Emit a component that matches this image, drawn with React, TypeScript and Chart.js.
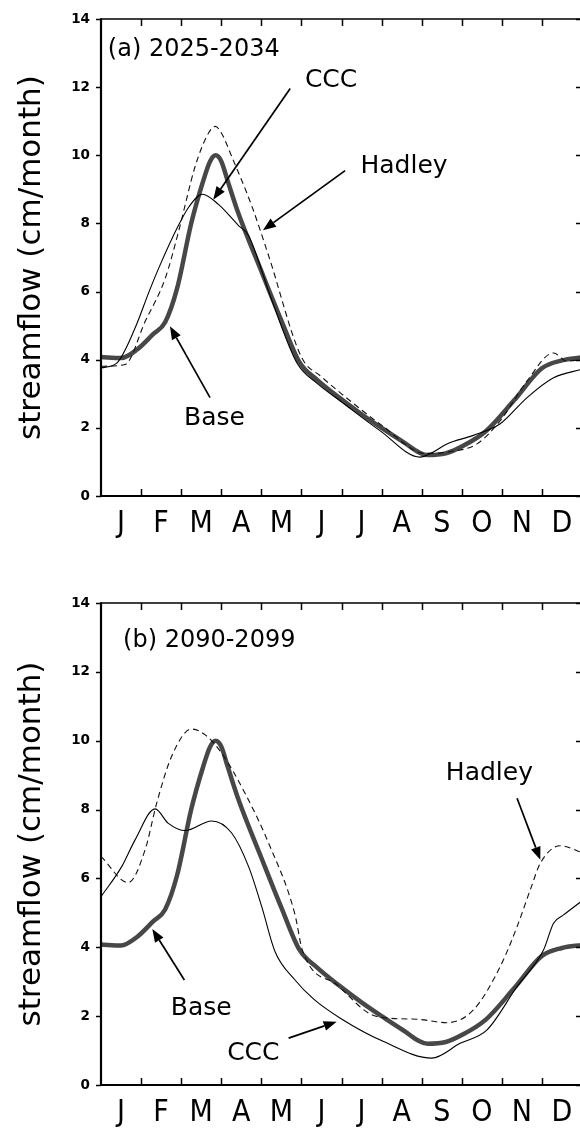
import React, { useEffect, useRef } from 'react';
import { Chart, registerables } from 'chart.js';

Chart.register(...registerables);

// ---------- tick labels ----------
const months = ['J', 'F', 'M', 'A', 'M', 'J', 'J', 'A', 'S', 'O', 'N', 'D'];
const monthCenters = [0.5, 1.5, 2.5, 3.5, 4.5, 5.5, 6.5, 7.5, 8.5, 9.5, 10.5, 11.5];
const monthEdges = [1, 2, 3, 4, 5, 6, 7, 8, 9, 10, 11];
const yTicks = [0, 2, 4, 6, 8, 10, 12, 14];

// ---------- Base (same in both panels) ----------
const baseX = [0, 0.5, 0.9, 1.3, 1.6, 1.9, 2.25, 2.55, 2.72, 2.86, 3.0, 3.16, 3.42, 4.0, 4.5, 4.95, 5.4, 5.95, 6.5, 7.0, 7.5, 8.15, 8.6, 9.0, 9.6, 10.3, 11.0, 11.5, 12];
const baseY = [4.08, 4.05, 4.3, 4.75, 5.1, 6.1, 8.0, 9.25, 9.82, 10.0, 9.83, 9.25, 8.32, 6.6, 5.15, 3.93, 3.4, 2.88, 2.4, 2.0, 1.62, 1.2, 1.25, 1.45, 1.9, 2.8, 3.75, 3.98, 4.07];

// ---------- Panel (a) 2025-2034 ----------
const cccAX = [0, 0.4, 0.85, 1.2, 1.47, 1.93, 2.2, 2.53, 2.93, 3.43, 3.68, 4.26, 4.9, 5.4, 5.97, 6.96, 7.96, 8.3, 8.63, 9.29, 9.96, 10.63, 11.29, 12];
const cccAY = [3.76, 3.91, 4.93, 6.0, 6.77, 7.94, 8.5, 8.86, 8.56, 7.94, 7.65, 5.75, 3.88, 3.3, 2.79, 1.92, 1.14, 1.3, 1.53, 1.78, 2.12, 2.89, 3.47, 3.72];
const hadAX = [0, 0.6, 1.1, 1.6, 1.93, 2.35, 2.68, 2.85, 3.02, 3.26, 3.76, 4.18, 5.0, 5.5, 6.0, 7.0, 8.1, 8.7, 9.38, 9.96, 10.63, 11.29, 11.62, 12];
const hadAY = [3.81, 3.86, 5.12, 6.38, 7.74, 9.68, 10.65, 10.85, 10.62, 9.97, 8.52, 7.06, 4.08, 3.5, 3.0, 2.08, 1.25, 1.3, 1.53, 2.21, 3.38, 4.2, 3.96, 4.0];

// ---------- Panel (b) 2090-2099 ----------
const cccBX = [0, 0.52, 0.85, 1.35, 1.68, 2.1, 2.76, 3.26, 3.68, 4.01, 4.34, 4.84, 5.3, 5.97, 7.05, 8.25, 8.96, 9.63, 10.38, 11.04, 11.29, 11.54, 12];
const cccBY = [5.47, 6.35, 7.12, 8.02, 7.6, 7.39, 7.67, 7.32, 6.35, 5.18, 3.88, 3.05, 2.5, 1.94, 1.26, 0.78, 1.21, 1.6, 2.86, 3.92, 4.7, 4.94, 5.35];
const hadBX = [0, 0.68, 1.1, 1.39, 1.76, 2.26, 2.6, 3.01, 3.59, 4.18, 4.84, 5.02, 5.9, 6.88, 7.88, 8.63, 9.29, 9.96, 10.38, 10.71, 10.96, 11.46, 12];
const hadBY = [6.64, 5.88, 6.83, 8.19, 9.54, 10.34, 10.17, 9.64, 8.48, 7.03, 4.95, 3.93, 2.9, 1.99, 1.91, 1.81, 2.18, 3.44, 4.6, 5.67, 6.44, 6.95, 6.75];

// ---------- annotations (data units) ----------
const annATexts = ['(a) 2025-2034', 'CCC', 'Hadley', 'Base'];
const annAX = [0.17, 5.74, 7.56, 2.83];
const annAY = [12.93, 12.02, 9.49, 2.07];
const arrATailX = [4.72, 6.09, 2.72];
const arrATailY = [11.96, 9.55, 2.89];
const arrATipX = [2.8, 4.04, 1.72];
const arrATipY = [8.7, 7.8, 4.98];

const annBTexts = ['(b) 2090-2099', 'Hadley', 'Base', 'CCC'];
const annBX = [0.55, 9.69, 2.5, 3.8];
const annBY = [12.73, 8.87, 2.03, 0.73];
const arrBTailX = [10.38, 2.08, 4.68];
const arrBTailY = [8.33, 3.05, 1.36];
const arrBTipX = [10.96, 1.28, 5.88];
const arrBTipY = [6.54, 4.53, 1.84];

const TEXT_FONT = '"DejaVu Sans", "Noto Sans", sans-serif';
const MONTH_FONT = '"Liberation Sans Narrow", "DejaVu Sans Condensed", "Liberation Sans", sans-serif';

const toPts = (xs: number[], ys: number[]) => xs.map((x, i) => ({ x, y: ys[i] }));

const framePlugin = {
  id: 'frame',
  afterDatasetsDraw(chart: any) {
    const { ctx, chartArea, scales } = chart;
    const { left, right, top, bottom } = chartArea;
    const x = scales.x;
    const y = scales.y;
    ctx.save();
    ctx.strokeStyle = '#000';
    ctx.lineWidth = 1.5;
    ctx.beginPath();
    ctx.moveTo(left, top);
    ctx.lineTo(right, top);
    ctx.lineTo(right, bottom);
    ctx.stroke();
    ctx.lineWidth = 2.2;
    ctx.beginPath();
    ctx.moveTo(left, top - 0.75);
    ctx.lineTo(left, bottom);
    ctx.lineTo(right, bottom);
    ctx.stroke();
    ctx.lineWidth = 1.5;
    ctx.beginPath();
    for (const m of monthEdges) {
      const px = Math.round(x.getPixelForValue(m)) + 0.5;
      ctx.moveTo(px, top);
      ctx.lineTo(px, top + 7);
      ctx.moveTo(px, bottom);
      ctx.lineTo(px, bottom - 7);
    }
    for (const v of yTicks) {
      const py = Math.round(y.getPixelForValue(v)) + 0.5;
      ctx.moveTo(left - 5, py);
      ctx.lineTo(left, py);
      ctx.moveTo(right, py);
      ctx.lineTo(right - 6, py);
    }
    ctx.stroke();
    ctx.restore();
  },
};

const annotPlugin = {
  id: 'annot',
  afterDraw(chart: any, _args: any, opts: any) {
    const { ctx, scales } = chart;
    const x = scales.x;
    const y = scales.y;
    ctx.save();
    ctx.fillStyle = '#000';
    ctx.strokeStyle = '#000';
    ctx.textBaseline = 'alphabetic';
    (opts.texts || []).forEach((t: string, i: number) => {
      const isTitle = i === 0;
      ctx.font = isTitle ? `24px ${TEXT_FONT}` : `25px ${TEXT_FONT}`;
      ctx.textAlign = isTitle ? 'left' : 'center';
      ctx.fillText(t, x.getPixelForValue(opts.xs[i]), y.getPixelForValue(opts.ys[i]));
    });
    const n = (opts.tailX || []).length;
    for (let i = 0; i < n; i++) {
      const x1 = x.getPixelForValue(opts.tailX[i]);
      const y1 = y.getPixelForValue(opts.tailY[i]);
      const x2 = x.getPixelForValue(opts.tipX[i]);
      const y2 = y.getPixelForValue(opts.tipY[i]);
      const ang = Math.atan2(y2 - y1, x2 - x1);
      const L = 13;
      const W = 5;
      const c = Math.cos(ang);
      const s = Math.sin(ang);
      const bx = x2 - L * c;
      const by = y2 - L * s;
      ctx.lineWidth = 1.7;
      ctx.beginPath();
      ctx.moveTo(x1, y1);
      ctx.lineTo(bx, by);
      ctx.stroke();
      ctx.beginPath();
      ctx.moveTo(x2, y2);
      ctx.lineTo(bx + W * s, by - W * c);
      ctx.lineTo(bx - W * s, by + W * c);
      ctx.closePath();
      ctx.fill();
    }
    ctx.restore();
  },
};

function makeConfig(
  ccc: { x: number; y: number }[],
  had: { x: number; y: number }[],
  topPad: number,
  xHeight: number,
  annot: any
): any {
  return {
    type: 'line',
    data: {
      datasets: [
        {
          label: 'CCC',
          data: ccc,
          borderColor: '#000',
          borderWidth: 1.1,
          pointRadius: 0,
          cubicInterpolationMode: 'monotone',
          fill: false,
        },
        {
          label: 'Hadley',
          data: had,
          borderColor: '#111',
          borderWidth: 1.1,
          borderDash: [6, 4],
          pointRadius: 0,
          cubicInterpolationMode: 'monotone',
          fill: false,
        },
        {
          label: 'Base',
          data: toPts(baseX, baseY),
          borderColor: '#474747',
          borderWidth: 4.5,
          pointRadius: 0,
          cubicInterpolationMode: 'monotone',
          fill: false,
          borderJoinStyle: 'round',
          borderCapStyle: 'round',
        },
      ],
    },
    options: {
      animation: false,
      responsive: false,
      maintainAspectRatio: false,
      devicePixelRatio: 1,
      layout: { padding: { left: 0, top: topPad, right: 8, bottom: 0 } },
      plugins: {
        legend: { display: false },
        tooltip: { enabled: false },
        annot,
      },
      elements: { point: { radius: 0 } },
      scales: {
        x: {
          type: 'linear',
          min: 0,
          max: 12,
          grid: { display: false, drawTicks: false },
          border: { display: false },
          afterBuildTicks: (s: any) => {
            s.ticks = monthCenters.map((v) => ({ value: v }));
          },
          afterFit: (s: any) => {
            s.height = xHeight;
          },
          ticks: {
            autoSkip: false,
            maxRotation: 0,
            minRotation: 0,
            padding: 10,
            color: '#000',
            font: { family: MONTH_FONT, size: 30 },
            callback: (v: number) => months[Math.floor(v)] ?? '',
          },
        },
        y: {
          min: 0,
          max: 14,
          grid: { display: false, drawTicks: false },
          border: { display: false },
          afterFit: (s: any) => {
            s.width = 101;
          },
          ticks: {
            stepSize: 2,
            padding: 11,
            color: '#000',
            font: { family: '"DejaVu Sans", "Liberation Sans", sans-serif', size: 13.5, weight: 'bold' },
          },
          title: {
            display: true,
            text: 'streamflow (cm/month)',
            color: '#000',
            font: { family: TEXT_FONT, size: 31 },
            padding: { top: 13, bottom: 0 },
          },
        },
      },
    },
    plugins: [framePlugin, annotPlugin],
  };
}

export default function App() {
  const refA = useRef<HTMLCanvasElement>(null);
  const refB = useRef<HTMLCanvasElement>(null);

  useEffect(() => {
    const chartA = new Chart(
      refA.current as HTMLCanvasElement,
      makeConfig(toPts(cccAX, cccAY), toPts(hadAX, hadAY), 15, 68, {
        texts: annATexts,
        xs: annAX,
        ys: annAY,
        tailX: arrATailX,
        tailY: arrATailY,
        tipX: arrATipX,
        tipY: arrATipY,
      })
    );
    const chartB = new Chart(
      refB.current as HTMLCanvasElement,
      makeConfig(toPts(cccBX, cccBY), toPts(hadBX, hadBY), 39, 43, {
        texts: annBTexts,
        xs: annBX,
        ys: annBY,
        tailX: arrBTailX,
        tailY: arrBTailY,
        tipX: arrBTipX,
        tipY: arrBTipY,
      })
    );
    return () => {
      chartA.destroy();
      chartB.destroy();
    };
  }, []);

  return (
    <div
      style={{
        position: 'absolute',
        left: 0,
        top: 0,
        width: 580,
        height: 1128,
        overflow: 'hidden',
        background: '#fff',
      }}
    >
      <canvas
        ref={refA}
        width={590}
        height={564}
        style={{ position: 'absolute', left: 0, top: 0, width: 590, height: 564 }}
      />
      <canvas
        ref={refB}
        width={590}
        height={564}
        style={{ position: 'absolute', left: 0, top: 564, width: 590, height: 564 }}
      />
    </div>
  );
}
